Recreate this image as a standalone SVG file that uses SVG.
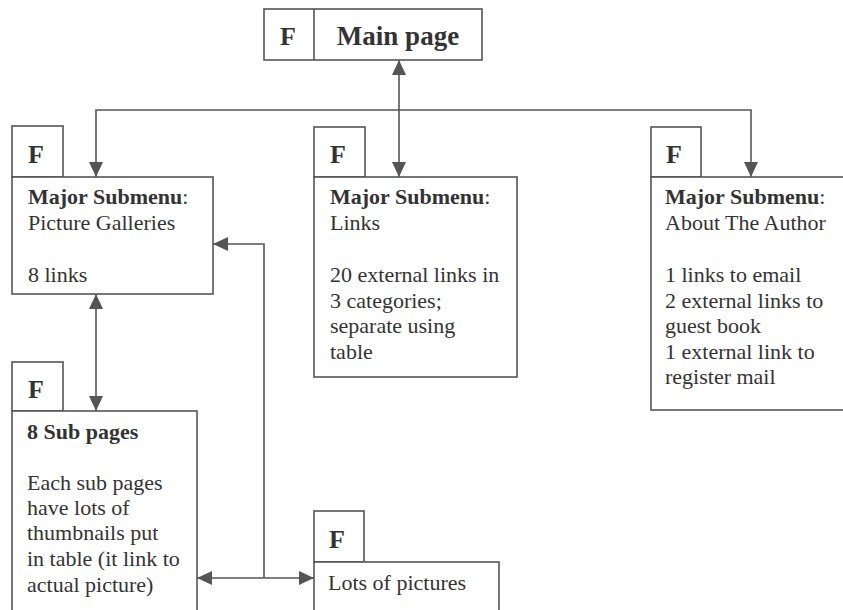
<svg xmlns="http://www.w3.org/2000/svg" width="843" height="610" viewBox="0 0 843 610">
<style>
.box{fill:#fff;stroke:#555;stroke-width:1.6}
.ln{fill:none;stroke:#555;stroke-width:1.6}
.t{font-family:"Liberation Serif","Times New Roman",serif;font-size:22px;fill:#333}
.b{font-weight:bold}
.f{font-family:"Liberation Serif","Times New Roman",serif;font-size:26px;font-weight:bold;fill:#333}
</style>
<defs>
<marker id="ah" markerUnits="userSpaceOnUse" markerWidth="15" markerHeight="14" refX="15" refY="7" orient="auto-start-reverse">
<path d="M0,0 L15,7 L0,14 z" fill="#555"/>
</marker>
</defs>
<rect width="843" height="610" fill="#fff"/>
<g id="main">
<rect class="box" x="264" y="9" width="218" height="51"/>
<line class="ln" x1="314" y1="9" x2="314" y2="60"/>
<text class="f" x="280" y="45">F</text>
<text class="f" x="398" y="45" text-anchor="middle" style="font-size:27px">Main page</text>
</g>
<g id="gallery">
<rect class="box" x="12" y="126" width="51" height="51"/>
<text class="f" x="28" y="163">F</text>
<rect class="box" x="12" y="177" width="201" height="117"/>
<text class="t" x="28" y="204"><tspan class="b">Major Submenu</tspan>:</text>
<text class="t" x="28" y="230">Picture Galleries</text>
<text class="t" x="28" y="282">8 links</text>
</g>
<g id="links">
<rect class="box" x="314" y="127" width="51" height="50"/>
<text class="f" x="330" y="163">F</text>
<rect class="box" x="314" y="177" width="203" height="200"/>
<text class="t" x="330" y="204"><tspan class="b">Major Submenu</tspan>:</text>
<text class="t" x="330" y="230">Links</text>
<text class="t" x="330" y="282">20 external links in</text>
<text class="t" x="330" y="308">3 categories;</text>
<text class="t" x="330" y="333">separate using</text>
<text class="t" x="330" y="359">table</text>
</g>
<g id="author">
<rect class="box" x="651" y="127" width="50" height="50"/>
<text class="f" x="666" y="163">F</text>
<rect class="box" x="651" y="177" width="200" height="233"/>
<text class="t" x="665" y="204"><tspan class="b">Major Submenu</tspan>:</text>
<text class="t" x="665" y="230">About The Author</text>
<text class="t" x="665" y="282">1 links to email</text>
<text class="t" x="665" y="308">2 external links to</text>
<text class="t" x="665" y="333">guest book</text>
<text class="t" x="665" y="359">1 external link to</text>
<text class="t" x="665" y="384">register mail</text>
</g>
<g id="subpages">
<rect class="box" x="12" y="362" width="51" height="49"/>
<text class="f" x="28" y="398">F</text>
<rect class="box" x="12" y="411" width="185" height="210"/>
<text class="t b" x="27" y="439">8 Sub pages</text>
<text class="t" x="27" y="490">Each sub pages</text>
<text class="t" x="27" y="515">have lots of</text>
<text class="t" x="27" y="540">thumbnails put</text>
<text class="t" x="27" y="566">in table (it link to</text>
<text class="t" x="27" y="592">actual picture)</text>
</g>
<g id="pictures">
<rect class="box" x="314" y="511" width="50" height="51"/>
<text class="f" x="329" y="548">F</text>
<rect class="box" x="314" y="562" width="185" height="60"/>
<text class="t" x="328" y="590">Lots of pictures</text>
</g>
<g id="connectors">
<line class="ln" x1="399" y1="60" x2="399" y2="177" marker-start="url(#ah)" marker-end="url(#ah)"/>
<polyline class="ln" points="96,177 96,110 751,110 751,177" marker-start="url(#ah)" marker-end="url(#ah)"/>
<line class="ln" x1="96" y1="294" x2="96" y2="411" marker-start="url(#ah)" marker-end="url(#ah)"/>
<polyline class="ln" points="213,244 264,244 264,578" marker-start="url(#ah)"/>
<line class="ln" x1="197" y1="578" x2="314" y2="578" marker-start="url(#ah)" marker-end="url(#ah)"/>
</g>
</svg>
